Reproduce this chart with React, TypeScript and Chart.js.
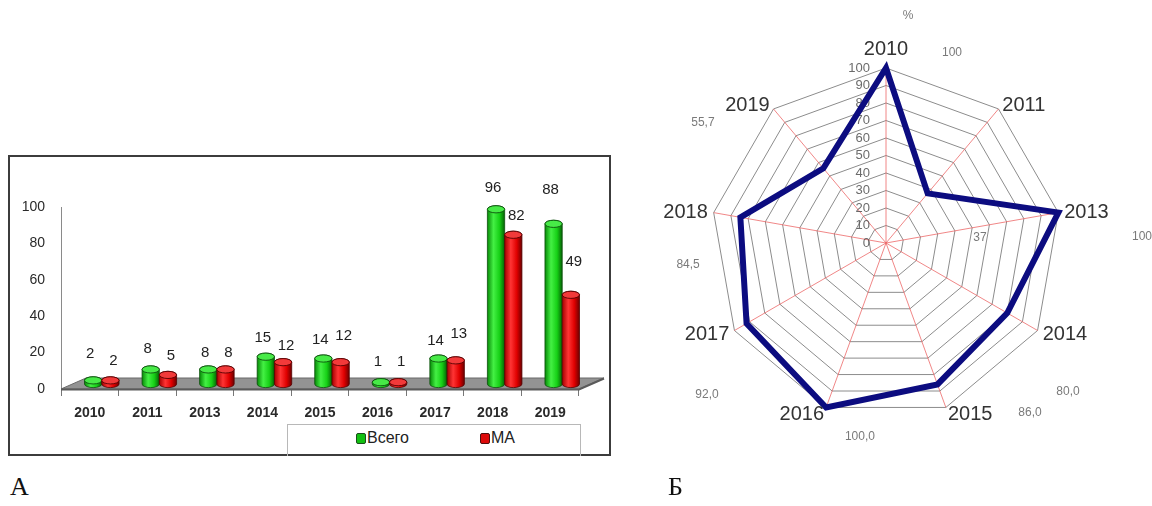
import React, { useEffect, useRef } from "react";
import { Chart, registerables } from "chart.js";

Chart.register(...registerables);

// ---- Bar chart (А): cases per year ----
const years = ["2010", "2011", "2013", "2014", "2015", "2016", "2017", "2018", "2019"];
const totalCases = [2, 8, 8, 15, 14, 1, 14, 96, 88];
const maCases = [2, 5, 8, 12, 12, 1, 13, 82, 49];
const seriesNames = ["Всего", "МА"];
const yMin = 0;
const yMax = 100;
const yStep = 20;

// how far each value label floats above its cylinder, px
const totalLabelLift = [27, 21, 17, 19, 19, 20, 18, 21, 34];
const maLabelLift = [20, 19, 17, 16, 26, 20, 26, 19, 33];

// ---- Radar chart (Б): share, % ----
const radarYears = years;
const radarShare = [100, 37, 100, 80, 86, 100, 92, 84.5, 55.7];
const radarDecimals = [0, 0, 0, 1, 1, 1, 1, 1, 1];
const radarMin = 0;
const radarMax = 100;
const radarStep = 10;

// value label placement, in units of the radar radius relative to its centre
const radarLabelSpots = [
  [0.377, -1.086],
  [0.537, -0.029],
  [1.463, -0.034],
  [1.04, 0.851],
  [0.823, 0.971],
  [-0.149, 1.109],
  [-1.023, 0.869],
  [-1.131, 0.126],
  [-1.046, -0.686],
];

const SANS = "'Liberation Sans', Arial, sans-serif";

// 3D look of the bar chart
const FLOOR_DEPTH = { dx: 25, dy: -11 };
const BAR_SHIFT = { dx: 12, dy: -5 };

const palettes = [
  {
    stops: ["#078a07", "#44f044", "#16d016", "#056205"],
    cap: "#47ea47",
    edge: "#0d4f0d",
    labelDx: -3,
    lifts: totalLabelLift,
  },
  {
    stops: ["#a40000", "#ff3434", "#e00000", "#6e0000"],
    cap: "#f23a3a",
    edge: "#550000",
    labelDx: 3,
    lifts: maLabelLift,
  },
];

function drawCylinder(ctx: CanvasRenderingContext2D, x: number, top: number, bottom: number, w: number, pal: any) {
  const left = x - w / 2;
  const right = x + w / 2;
  const ry = Math.min(3.6, w * 0.22);
  const g = ctx.createLinearGradient(left, 0, right, 0);
  g.addColorStop(0, pal.stops[0]);
  g.addColorStop(0.35, pal.stops[1]);
  g.addColorStop(0.7, pal.stops[2]);
  g.addColorStop(1, pal.stops[3]);

  ctx.beginPath();
  ctx.moveTo(left, top);
  ctx.lineTo(left, bottom);
  ctx.ellipse(x, bottom, w / 2, ry, 0, Math.PI, 0, true);
  ctx.lineTo(right, top);
  ctx.ellipse(x, top, w / 2, ry, 0, 0, Math.PI, true);
  ctx.closePath();
  ctx.fillStyle = g;
  ctx.fill();
  ctx.lineWidth = 0.8;
  ctx.strokeStyle = pal.edge;
  ctx.stroke();

  ctx.beginPath();
  ctx.ellipse(x, top, w / 2, ry, 0, 0, Math.PI * 2);
  ctx.fillStyle = pal.cap;
  ctx.fill();
  ctx.lineWidth = 0.9;
  ctx.strokeStyle = pal.edge;
  ctx.stroke();
}

const bars3d = {
  id: "bars3d",
  beforeDatasetsDraw(chart: any) {
    const { ctx, chartArea, scales } = chart;
    const y0 = scales.y.getPixelForValue(0);
    ctx.save();
    ctx.beginPath();
    ctx.moveTo(chartArea.left, y0);
    ctx.lineTo(chartArea.right, y0);
    ctx.lineTo(chartArea.right + FLOOR_DEPTH.dx, y0 + FLOOR_DEPTH.dy);
    ctx.lineTo(chartArea.left + FLOOR_DEPTH.dx, y0 + FLOOR_DEPTH.dy);
    ctx.closePath();
    ctx.fillStyle = "#939393";
    ctx.fill();
    ctx.lineWidth = 1;
    ctx.strokeStyle = "#6a6a6a";
    ctx.stroke();
    // front edge of the floor
    ctx.beginPath();
    ctx.moveTo(chartArea.left, y0 + 0.5);
    ctx.lineTo(chartArea.right, y0 + 0.5);
    ctx.lineTo(chartArea.right + FLOOR_DEPTH.dx, y0 + FLOOR_DEPTH.dy + 0.5);
    ctx.lineWidth = 2;
    ctx.strokeStyle = "#5a5a5a";
    ctx.stroke();
    ctx.restore();
  },
  afterDatasetsDraw(chart: any) {
    const { ctx } = chart;
    const metas = [chart.getDatasetMeta(0), chart.getDatasetMeta(1)];
    ctx.save();
    for (let i = 0; i < years.length; i++) {
      metas.forEach((meta: any, d: number) => {
        const el = meta.data[i];
        if (!el) return;
        const p = el.getProps(["x", "y", "base", "width"], true);
        drawCylinder(ctx, p.x + BAR_SHIFT.dx, p.y + BAR_SHIFT.dy, p.base + BAR_SHIFT.dy, p.width, palettes[d]);
      });
    }
    // value labels
    ctx.font = `15px ${SANS}`;
    ctx.fillStyle = "#222";
    ctx.textAlign = "center";
    ctx.textBaseline = "middle";
    metas.forEach((meta: any, d: number) => {
      const values = chart.data.datasets[d].data;
      meta.data.forEach((el: any, i: number) => {
        const p = el.getProps(["x", "y"], true);
        ctx.fillText(
          String(values[i]),
          p.x + BAR_SHIFT.dx + palettes[d].labelDx,
          p.y + BAR_SHIFT.dy - palettes[d].lifts[i]
        );
      });
    });
    ctx.restore();
  },
};

const radarDecor = {
  id: "radarDecor",
  beforeDatasetsDraw(chart: any) {
    const r = chart.scales.r;
    const ctx = chart.ctx;
    ctx.save();
    ctx.font = `13px ${SANS}`;
    ctx.fillStyle = "rgba(80,80,80,0.85)";
    ctx.textAlign = "right";
    ctx.textBaseline = "middle";
    r.ticks.forEach((t: any) => {
      const d = r.getDistanceFromCenterForValue(t.value);
      ctx.fillText(String(t.value), r.xCenter - 16, r.yCenter - d);
    });
    ctx.restore();
  },
  afterDraw(chart: any) {
    const r = chart.scales.r;
    const ctx = chart.ctx;
    const cx = r.xCenter;
    const cy = r.yCenter;
    const R = r.drawingArea;
    ctx.save();
    // category labels
    ctx.font = `20px ${SANS}`;
    ctx.fillStyle = "#333";
    radarYears.forEach((lab, i) => {
      const p = r.getPointPosition(i, R + 6);
      const dx = p.x - cx;
      if (Math.abs(dx) < 2) {
        ctx.textAlign = "center";
        ctx.textBaseline = "alphabetic";
        ctx.fillText(lab, p.x, p.y - 7);
      } else {
        ctx.textAlign = dx > 0 ? "left" : "right";
        ctx.textBaseline = "middle";
        ctx.fillText(lab, p.x, p.y + 1);
      }
    });
    // value labels
    ctx.font = `12px ${SANS}`;
    ctx.fillStyle = "#7a7a7a";
    ctx.textAlign = "center";
    ctx.textBaseline = "middle";
    radarShare.forEach((v, i) => {
      const txt = v.toFixed(radarDecimals[i]).replace(".", ",");
      const [fx, fy] = radarLabelSpots[i];
      ctx.fillText(txt, cx + fx * R, cy + fy * R);
    });
    // unit
    ctx.fillText("%", cx + 0.126 * R, cy - 1.297 * R);
    ctx.restore();
  },
};

export default function App() {
  const barRef = useRef<HTMLCanvasElement>(null);
  const radarRef = useRef<HTMLCanvasElement>(null);

  useEffect(() => {
    const bar = new Chart(barRef.current as HTMLCanvasElement, {
      type: "bar",
      data: {
        labels: years,
        datasets: [
          { label: seriesNames[0], data: totalCases, backgroundColor: "rgba(0,0,0,0)", borderWidth: 0 },
          { label: seriesNames[1], data: maCases, backgroundColor: "rgba(0,0,0,0)", borderWidth: 0 },
        ],
      },
      options: {
        animation: false,
        responsive: false,
        devicePixelRatio: 1,
        layout: { padding: { left: 8, right: 30, top: 50, bottom: 3 } },
        datasets: { bar: { categoryPercentage: 0.6, barPercentage: 1 } },
        plugins: { legend: { display: false }, tooltip: { enabled: false } },
        scales: {
          x: {
            grid: { display: true, drawOnChartArea: false, drawTicks: true, tickLength: 7, color: "#777", offset: true },
            border: { display: true, color: "#666", width: 1 },
            ticks: {
              padding: 9,
              color: "#2a2a2a",
              maxRotation: 0,
              autoSkip: false,
              font: { family: SANS, size: 14, weight: "bold" },
            },
            afterFit: (s: any) => {
              s.height = 30;
            },
          },
          y: {
            min: yMin,
            max: yMax,
            ticks: { stepSize: yStep, padding: 16, color: "#2a2a2a", font: { family: SANS, size: 14 } },
            grid: { display: false, drawTicks: false },
            border: { display: true, color: "#8a8a8a", width: 1 },
            afterFit: (s: any) => {
              s.width = 44;
            },
          },
        },
      } as any,
      plugins: [bars3d],
    });

    const radar = new Chart(radarRef.current as HTMLCanvasElement, {
      type: "radar",
      data: {
        labels: radarYears,
        datasets: [
          {
            label: "%",
            data: radarShare,
            borderColor: "#0c0c80",
            borderWidth: 6,
            borderJoinStyle: "miter",
            pointRadius: 0,
            fill: false,
            tension: 0,
          },
        ],
      },
      options: {
        animation: false,
        responsive: false,
        devicePixelRatio: 1,
        layout: { padding: { left: 71, right: 91, top: 68, bottom: 72 } },
        plugins: { legend: { display: false }, tooltip: { enabled: false } },
        scales: {
          r: {
            min: radarMin,
            max: radarMax,
            ticks: { stepSize: radarStep, display: false },
            grid: { color: "#8c8c8c", lineWidth: 1 },
            angleLines: { color: "rgba(235,95,95,0.75)", lineWidth: 1 },
            pointLabels: { display: false },
          },
        },
      } as any,
      plugins: [radarDecor],
    });

    return () => {
      bar.destroy();
      radar.destroy();
    };
  }, []);

  const caption: React.CSSProperties = {
    position: "absolute",
    top: 474,
    font: "26px 'Liberation Serif', 'Times New Roman', serif",
    lineHeight: "26px",
    color: "#111",
  };
  const legendItem: React.CSSProperties = {
    position: "absolute",
    top: 429,
    display: "flex",
    alignItems: "center",
    font: `16px ${SANS}`,
    lineHeight: "18px",
    color: "#222",
  };
  const marker = (fill: string, edge: string): React.CSSProperties => ({
    display: "inline-block",
    width: 8,
    height: 9,
    background: fill,
    border: `1.5px solid ${edge}`,
    borderRadius: 2,
    marginRight: 1,
  });

  return (
    <div style={{ position: "absolute", left: 0, top: 0, width: 1152, height: 506, background: "#fff", overflow: "hidden" }}>
      <div style={{ position: "absolute", left: 8, top: 155, width: 599, height: 297, border: "2px solid #3c3c3c" }} />
      <canvas
        ref={barRef}
        width={600}
        height={265}
        style={{ position: "absolute", left: 9, top: 157, width: 600, height: 265 }}
      />
      <div
        style={{
          position: "absolute",
          left: 287,
          top: 424,
          width: 292,
          height: 31,
          border: "1px solid #b8b8b8",
          borderBottom: "none",
        }}
      />
      <div style={{ ...legendItem, left: 356 }}>
        <span style={marker("#12c012", "#1b4d1b")} />
        {seriesNames[0]}
      </div>
      <div style={{ ...legendItem, left: 480 }}>
        <span style={marker("#dd0a0a", "#4d1010")} />
        {seriesNames[1]}
      </div>
      <canvas
        ref={radarRef}
        width={512}
        height={490}
        style={{ position: "absolute", left: 640, top: 0, width: 512, height: 490 }}
      />
      <div style={{ ...caption, left: 10 }}>А</div>
      <div style={{ ...caption, left: 668 }}>Б</div>
    </div>
  );
}
